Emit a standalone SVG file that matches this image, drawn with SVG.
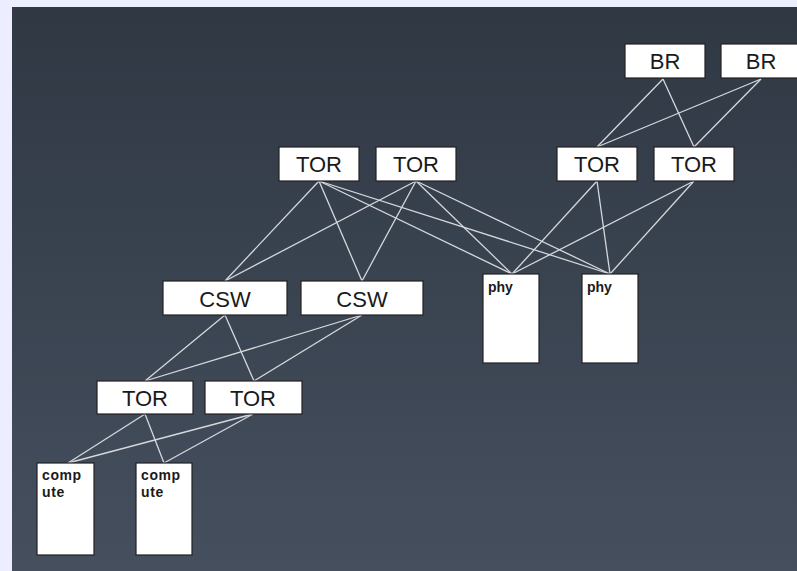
<svg xmlns="http://www.w3.org/2000/svg" width="797" height="571" viewBox="0 0 797 571">
<defs>
<linearGradient id="bg" x1="0" y1="0" x2="0" y2="1">
<stop offset="0" stop-color="#2f3843"/>
<stop offset="1" stop-color="#454f5e"/>
</linearGradient>
</defs>
<style>
.box{fill:#ffffff;stroke:#222222;stroke-width:1.2}
.lbl{font-family:"Liberation Sans",Arial,sans-serif;font-size:22px;fill:#1a1a1a;text-anchor:middle}
.sm{font-family:"Liberation Sans",Arial,sans-serif;font-size:14px;font-weight:bold;fill:#1a1a1a}
.cp{letter-spacing:0.6px}
.ln{stroke:#d6d8dc;stroke-width:1.3;fill:none}
</style>
<rect x="0" y="0" width="797" height="571" fill="#eceeff"/>
<rect x="12" y="7" width="785" height="564" fill="url(#bg)"/>
<g id="connectors" class="ln">
<line x1="663" y1="79" x2="597" y2="147"/>
<line x1="663" y1="79" x2="694" y2="147"/>
<line x1="761" y1="79" x2="597" y2="147"/>
<line x1="761" y1="79" x2="694" y2="147"/>
<line x1="319" y1="181" x2="225" y2="281"/>
<line x1="319" y1="181" x2="362" y2="281"/>
<line x1="319" y1="181" x2="512" y2="274"/>
<line x1="319" y1="181" x2="610" y2="274"/>
<line x1="416" y1="181" x2="225" y2="281"/>
<line x1="416" y1="181" x2="362" y2="281"/>
<line x1="416" y1="181" x2="512" y2="274"/>
<line x1="416" y1="181" x2="610" y2="274"/>
<line x1="597" y1="181" x2="512" y2="274"/>
<line x1="597" y1="181" x2="610" y2="274"/>
<line x1="694" y1="181" x2="512" y2="274"/>
<line x1="694" y1="181" x2="610" y2="274"/>
<line x1="225" y1="315" x2="145" y2="381"/>
<line x1="225" y1="315" x2="254" y2="381"/>
<line x1="362" y1="315" x2="145" y2="381"/>
<line x1="362" y1="315" x2="254" y2="381"/>
<line x1="145" y1="414" x2="68" y2="463"/>
<line x1="145" y1="414" x2="164" y2="463"/>
<line x1="253" y1="414" x2="68" y2="463"/>
<line x1="253" y1="414" x2="164" y2="463"/>
</g>
<g id="br1"><rect class="box" x="625" y="44" width="80" height="34"/><text class="lbl" x="665" y="69">BR</text></g>
<g id="br2"><rect class="box" x="721" y="44" width="80" height="34"/><text class="lbl" x="761" y="69">BR</text></g>
<g id="tor1"><rect class="box" x="279" y="147" width="80" height="34"/><text class="lbl" x="319" y="172">TOR</text></g>
<g id="tor2"><rect class="box" x="376" y="147" width="80" height="34"/><text class="lbl" x="416" y="172">TOR</text></g>
<g id="tor3"><rect class="box" x="557" y="147" width="80" height="34"/><text class="lbl" x="597" y="172">TOR</text></g>
<g id="tor4"><rect class="box" x="654" y="147" width="80" height="34"/><text class="lbl" x="694" y="172">TOR</text></g>
<g id="csw1"><rect class="box" x="163" y="281" width="124" height="34"/><text class="lbl" x="225" y="307">CSW</text></g>
<g id="csw2"><rect class="box" x="301" y="281" width="122" height="34"/><text class="lbl" x="362" y="307">CSW</text></g>
<g id="phy1"><rect class="box" x="483" y="274" width="56" height="89"/><text class="sm" x="488" y="292">phy</text></g>
<g id="phy2"><rect class="box" x="582" y="274" width="56" height="89"/><text class="sm" x="587" y="292">phy</text></g>
<g id="tor5"><rect class="box" x="97" y="381" width="96" height="33"/><text class="lbl" x="145" y="406">TOR</text></g>
<g id="tor6"><rect class="box" x="205" y="381" width="97" height="33"/><text class="lbl" x="253" y="406">TOR</text></g>
<g id="compute1"><rect class="box" x="37" y="463" width="57" height="92"/><text class="sm cp" x="42" y="480">comp</text><text class="sm cp" x="42" y="497">ute</text></g>
<g id="compute2"><rect class="box" x="136" y="463" width="56" height="92"/><text class="sm cp" x="141" y="480">comp</text><text class="sm cp" x="141" y="497">ute</text></g>
</svg>
